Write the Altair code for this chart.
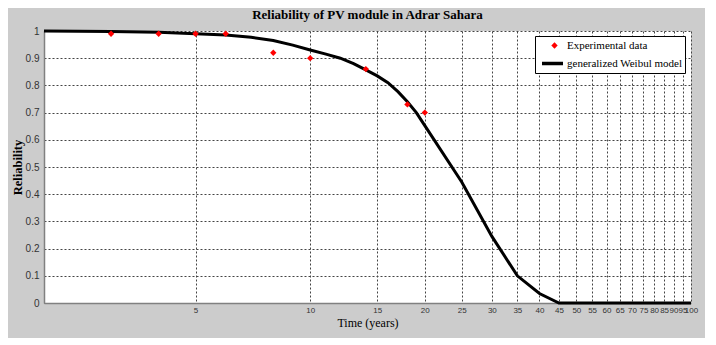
import altair as alt
import pandas as pd

# Experimental data
exp_t = [3, 4, 5, 6, 8, 10, 14, 18, 20]
exp_r = [0.99, 0.99, 0.99, 0.99, 0.92, 0.90, 0.86, 0.73, 0.70]

# Generalized Weibull model curve
mod_t = [2, 3, 4, 5, 6, 7, 8, 9, 10, 11, 12, 13, 14, 15, 16, 17, 18, 19, 20,
         25, 30, 35, 40, 45, 50, 55, 60, 65, 70, 75, 80, 85, 90, 95, 100]
mod_r = [1.0, 0.998, 0.995, 0.99, 0.985, 0.977, 0.965, 0.948, 0.93, 0.915,
         0.90, 0.88, 0.857, 0.835, 0.81, 0.777, 0.74, 0.70, 0.652,
         0.445, 0.245, 0.10, 0.035, 0.0, 0.0, 0.0, 0.0, 0.0, 0.0, 0.0,
         0.0, 0.0, 0.0, 0.0, 0.0]

x_ticks = [5, 10, 15, 20, 25, 30, 35, 40, 45, 50, 55, 60, 65, 70, 75, 80, 85, 90, 95, 100]
y_ticks = [0, 0.1, 0.2, 0.3, 0.4, 0.5, 0.6, 0.7, 0.8, 0.9, 1.0]
series = ["Experimental data", "generalized Weibul model"]

exp_df = pd.DataFrame({"t": exp_t, "r": exp_r, "series": series[0]})
mod_df = pd.DataFrame({"t": mod_t, "r": mod_r, "model": series[1]})

label_font = "Liberation Sans Narrow, Arial Narrow, Liberation Sans"
serif = "Liberation Serif, Times New Roman, serif"

x_axis = alt.Axis(values=x_ticks, title="Time (years)", format="d",
                  labelFont=label_font, labelFontSize=8, labelColor="#333333",
                  titleFont=serif, titleFontSize=12, titleFontWeight="normal",
                  titleColor="black", titlePadding=3, labelPadding=3,
                  grid=True, gridColor="#444444", gridDash=[2, 2], gridWidth=1,
                  domainColor="#808080", domainWidth=1.5, ticks=False,
                  labelFlush=False, labelOverlap=False)
y_axis = alt.Axis(values=y_ticks, title="Reliability", tickCount=11,
                  labelExpr="datum.value == 0 ? '0' : datum.value == 1 ? '1' : format(datum.value, '.1f')",
                  labelFont=label_font, labelFontSize=10, labelColor="#333333",
                  titleFont=serif, titleFontSize=12.5, titleFontWeight="bold",
                  titleColor="black", titlePadding=1, labelPadding=5,
                  grid=True, gridColor="#444444", gridDash=[2, 2], gridWidth=1,
                  domainColor="#808080", domainWidth=1.5, ticks=False,
                  labelFlush=False, labelOverlap=False)

x_scale = alt.Scale(type="log", domain=[2, 100], nice=False)
y_scale = alt.Scale(domain=[0, 1], nice=False, zero=False)

# Boxed legend: blank title reserves the first row; entry = thick black line
legend_b = alt.Legend(title=" ", titleFont=serif,
                      titleFontSize=11, titleFontWeight="normal", titlePadding=2,
                      orient="none", legendX=491, legendY=5,
                      fillColor="white", strokeColor="black", padding=2,
                      labelFont=serif, labelFontSize=11, labelColor="black",
                      symbolSize=441, symbolStrokeWidth=3.5, labelOffset=2,
                      symbolOffset=3, labelLimit=300, symbolType="stroke")
# Unboxed legend on top: red diamond + "Experimental data"
legend_a = alt.Legend(title=None, orient="none", legendX=505, legendY=9,
                      padding=0, labelFont=serif, labelFontSize=11, labelColor="black",
                      symbolSize=40, symbolStrokeWidth=0, labelOffset=7,
                      labelLimit=300)

line = alt.Chart(mod_df).mark_line(strokeWidth=3).encode(
    x=alt.X("t:Q", scale=x_scale, axis=x_axis),
    y=alt.Y("r:Q", scale=y_scale, axis=y_axis),
    stroke=alt.Stroke("model:N",
                      scale=alt.Scale(domain=[series[1]], range=["black"]),
                      legend=legend_b),
)

pts = alt.Chart(exp_df).mark_point(filled=True, size=40, opacity=1).encode(
    x=alt.X("t:Q", scale=x_scale, axis=x_axis),
    y=alt.Y("r:Q", scale=y_scale, axis=y_axis),
    color=alt.Color("series:N", scale=alt.Scale(domain=[series[0]], range=["red"]),
                    legend=legend_a),
    shape=alt.Shape("series:N", scale=alt.Scale(domain=[series[0]], range=["diamond"]),
                    legend=legend_a),
)

chart = alt.layer(line, pts).properties(
    width=647, height=272,
    title=alt.TitleParams("Reliability of PV module in Adrar Sahara", font=serif,
                          fontSize=13, fontWeight="bold", color="black", offset=3,
                          anchor="middle"),
    background="#cccccc",
    padding={"left": 36, "top": 23, "right": 14, "bottom": 35},
    autosize=alt.AutoSizeParams(type="none"),
).configure_view(stroke=None, fill="white")

chart.save("out.html", embed_options={"renderer": "svg", "actions": False})
